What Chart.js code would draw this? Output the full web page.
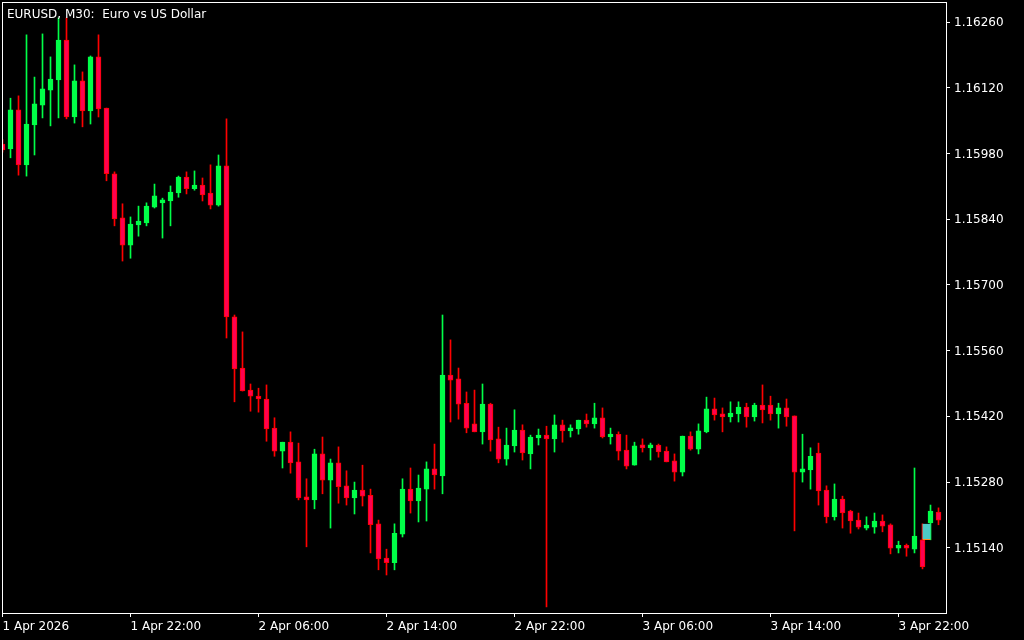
<!DOCTYPE html>
<html>
<head>
<meta charset="utf-8">
<script src="https://cdn.jsdelivr.net/npm/chart.js@4/dist/chart.umd.min.js"></script>
<style>
html, body { margin: 0; padding: 0; background: #000; }
</style>
</head>
<body>
<canvas id="grafico" width="1024" height="640"></canvas>
<script>
// EURUSD M30, barras a partir de 1 Apr 14:00 (indice -1 fica cortado na borda)
const titulo = 'EURUSD, M30:  Euro vs US Dollar'
const primeiraBarra = -1

const abertura = [
    1.16000,
    1.15990, 1.16073, 1.15956, 1.16041, 1.16083, 1.16115, 1.16137, 1.16222, 1.16058, 1.16135,
    1.16071, 1.16186, 1.16077, 1.15937, 1.15843, 1.15785, 1.15828, 1.15832, 1.15866, 1.15875,
    1.15879, 1.15896, 1.15930, 1.15905, 1.15913, 1.15896, 1.15870, 1.15954, 1.15632, 1.15523,
    1.15476, 1.15463, 1.15457, 1.15395, 1.15346, 1.15365, 1.15323, 1.15248, 1.15242, 1.15340,
    1.15284, 1.15321, 1.15272, 1.15246, 1.15263, 1.15252, 1.15191, 1.15118, 1.15108, 1.15169,
    1.15265, 1.15240, 1.15265, 1.15308, 1.15293, 1.15508, 1.15500, 1.15448, 1.15404, 1.15387,
    1.15446, 1.15372, 1.15329, 1.15357, 1.15391, 1.15340, 1.15374, 1.15380, 1.15372, 1.15402,
    1.15389, 1.15393, 1.15412, 1.15404, 1.15417, 1.15376, 1.15382, 1.15348, 1.15316, 1.15357,
    1.15353, 1.15359, 1.15346, 1.15325, 1.15301, 1.15378, 1.15350, 1.15387, 1.15436, 1.15425,
    1.15419, 1.15425, 1.15440, 1.15419, 1.15444, 1.15444, 1.15425, 1.15438, 1.15421, 1.15301,
    1.15306, 1.15342, 1.15263, 1.15206, 1.15244, 1.15218, 1.15199, 1.15182, 1.15184, 1.15197,
    1.15189, 1.15139, 1.15144, 1.15137, 1.15157, 1.15193, 1.15216
]
const maximas = [
    1.16010,
    1.16098, 1.16103, 1.16233, 1.16143, 1.16235, 1.16186, 1.16269, 1.16269, 1.16169, 1.16154,
    1.16188, 1.16233, 1.16077, 1.15941, 1.15873, 1.15845, 1.15868, 1.15875, 1.15915, 1.15885,
    1.15911, 1.15932, 1.15941, 1.15943, 1.15928, 1.15956, 1.15977, 1.16054, 1.15636, 1.15600,
    1.15489, 1.15480, 1.15487, 1.15417, 1.15365, 1.15387, 1.15363, 1.15287, 1.15350, 1.15376,
    1.15329, 1.15355, 1.15304, 1.15280, 1.15316, 1.15265, 1.15199, 1.15137, 1.15191, 1.15287,
    1.15310, 1.15295, 1.15323, 1.15361, 1.15636, 1.15583, 1.15523, 1.15472, 1.15476, 1.15489,
    1.15448, 1.15397, 1.15395, 1.15434, 1.15402, 1.15380, 1.15393, 1.15399, 1.15423, 1.15412,
    1.15402, 1.15412, 1.15425, 1.15448, 1.15438, 1.15395, 1.15387, 1.15380, 1.15365, 1.15372,
    1.15363, 1.15361, 1.15355, 1.15340, 1.15378, 1.15387, 1.15404, 1.15461, 1.15459, 1.15438,
    1.15451, 1.15451, 1.15448, 1.15448, 1.15487, 1.15463, 1.15448, 1.15457, 1.15421, 1.15382,
    1.15353, 1.15363, 1.15272, 1.15276, 1.15250, 1.15220, 1.15214, 1.15206, 1.15214, 1.15210,
    1.15191, 1.15154, 1.15148, 1.15310, 1.15191, 1.15231, 1.15225
]
const minimas = [
    1.15983,
    1.15971, 1.15934, 1.15932, 1.15977, 1.16056, 1.16039, 1.16056, 1.16054, 1.16045, 1.16037,
    1.16043, 1.16058, 1.15922, 1.15826, 1.15751, 1.15757, 1.15804, 1.15826, 1.15864, 1.15800,
    1.15826, 1.15887, 1.15894, 1.15902, 1.15879, 1.15862, 1.15868, 1.15587, 1.15451, 1.15474,
    1.15431, 1.15429, 1.15367, 1.15335, 1.15310, 1.15299, 1.15242, 1.15142, 1.15223, 1.15255,
    1.15182, 1.15235, 1.15231, 1.15212, 1.15229, 1.15129, 1.15093, 1.15082, 1.15093, 1.15163,
    1.15214, 1.15195, 1.15197, 1.15265, 1.15255, 1.15408, 1.15414, 1.15385, 1.15387, 1.15361,
    1.15346, 1.15321, 1.15316, 1.15344, 1.15327, 1.15308, 1.15359, 1.15014, 1.15344, 1.15365,
    1.15376, 1.15382, 1.15397, 1.15395, 1.15374, 1.15361, 1.15327, 1.15308, 1.15316, 1.15344,
    1.15327, 1.15333, 1.15323, 1.15282, 1.15293, 1.15348, 1.15340, 1.15385, 1.15412, 1.15387,
    1.15408, 1.15408, 1.15397, 1.15410, 1.15406, 1.15412, 1.15395, 1.15399, 1.15176, 1.15280,
    1.15265, 1.15231, 1.15193, 1.15199, 1.15182, 1.15171, 1.15180, 1.15178, 1.15171, 1.15174,
    1.15127, 1.15129, 1.15122, 1.15129, 1.15095, 1.15157, 1.15189
]
const fechamento = [
    1.15988,
    1.16073, 1.15956, 1.16043, 1.16086, 1.16118, 1.16139, 1.16222, 1.16058, 1.16135, 1.16071,
    1.16186, 1.16075, 1.15937, 1.15841, 1.15785, 1.15830, 1.15836, 1.15868, 1.15890, 1.15881,
    1.15898, 1.15930, 1.15905, 1.15913, 1.15892, 1.15870, 1.15954, 1.15632, 1.15521, 1.15474,
    1.15463, 1.15457, 1.15393, 1.15346, 1.15365, 1.15321, 1.15246, 1.15242, 1.15340, 1.15284,
    1.15321, 1.15270, 1.15246, 1.15263, 1.15250, 1.15189, 1.15116, 1.15108, 1.15171, 1.15265,
    1.15240, 1.15267, 1.15308, 1.15295, 1.15508, 1.15497, 1.15446, 1.15395, 1.15387, 1.15446,
    1.15370, 1.15329, 1.15359, 1.15391, 1.15342, 1.15376, 1.15380, 1.15372, 1.15402, 1.15389,
    1.15395, 1.15412, 1.15404, 1.15417, 1.15376, 1.15382, 1.15346, 1.15314, 1.15357, 1.15353,
    1.15359, 1.15344, 1.15323, 1.15301, 1.15378, 1.15350, 1.15389, 1.15436, 1.15423, 1.15419,
    1.15427, 1.15440, 1.15419, 1.15444, 1.15434, 1.15425, 1.15438, 1.15419, 1.15301, 1.15308,
    1.15335, 1.15261, 1.15206, 1.15244, 1.15214, 1.15197, 1.15184, 1.15186, 1.15197, 1.15186,
    1.15139, 1.15144, 1.15139, 1.15165, 1.15099, 1.15218, 1.15199
]

// marcador de operacao perto das ultimas barras
const marcadorBarra = [114.5]
const marcadorPreco = [[1.15157, 1.15191]]

// eixos
const precosEixo = [1.16260, 1.16120, 1.15980, 1.15840, 1.15700, 1.15560, 1.15420, 1.15280, 1.15140]
const posicoesTempo = [-1, 15, 31, 47, 63, 79, 95, 111]
const rotulosTempo = ['1 Apr 2026', '1 Apr 22:00', '2 Apr 06:00', '2 Apr 14:00', '2 Apr 22:00', '3 Apr 06:00', '3 Apr 14:00', '3 Apr 22:00']

const verde = '#00ff48'
const vermelho = '#ff0000'
const vermelhoCorpo = '#ff0050'
const fonte = { family: '"DejaVu Sans", sans-serif', size: 12 }

const alta = i => fechamento[i] >= abertura[i]

const pavios = abertura.map((_, i) => ({ x: primeiraBarra + i, y: [minimas[i], maximas[i]] }))
const corpos = abertura.map((_, i) => ({ x: primeiraBarra + i, y: [abertura[i], fechamento[i]] }))
const marcador = marcadorBarra.map((x, i) => ({ x: x, y: marcadorPreco[i] }))

// moldura branca e titulo
const moldura = {
    id: 'moldura',
    afterDraw(chart) {
        const c = chart.ctx
        const a = chart.chartArea
        c.save()
        c.strokeStyle = '#ffffff'
        c.lineWidth = 1
        c.strokeRect(a.left + 0.5, a.top + 0.5, a.right - a.left, a.bottom - a.top)
        c.fillStyle = '#ffffff'
        c.font = '12px "DejaVu Sans", sans-serif'
        c.textBaseline = 'alphabetic'
        c.fillText(titulo, a.left + 5, a.top + 16)
        c.restore()
    }
}

// tira o espaco extra que o Chart.js reserva para os rotulos
function semPadding(s) {
    s.paddingLeft = 0
    s.paddingRight = 0
    s.paddingTop = 0
    s.paddingBottom = 0
}

const ctx = document.getElementById('grafico').getContext('2d')
const grafico = new Chart(ctx, {
    type: 'bar',
    data: {
        datasets: [
            {
                label: 'pavio',
                data: pavios,
                grouped: false,
                barThickness: 1,
                backgroundColor: c => alta(c.dataIndex) ? verde : vermelho,
                borderWidth: 0,
                order: 3
            },
            {
                label: 'corpo',
                data: corpos,
                grouped: false,
                barThickness: 5,
                minBarLength: 3,
                backgroundColor: c => alta(c.dataIndex) ? verde : vermelhoCorpo,
                borderColor: c => alta(c.dataIndex) ? verde : vermelho,
                borderWidth: 1,
                borderSkipped: false,
                order: 2
            },
            {
                label: 'marcador',
                data: marcador,
                grouped: false,
                barThickness: 8,
                backgroundColor: '#4ccac6',
                borderColor: '#ff8a1c',
                borderWidth: { top: 0, left: 0, right: 0, bottom: 1 },
                borderSkipped: false,
                order: 1
            }
        ]
    },
    options: {
        responsive: false,
        animation: false,
        layout: { padding: { left: 2, top: 2, right: 0, bottom: 0 } },
        plugins: {
            legend: { display: false },
            tooltip: { enabled: false }
        },
        scales: {
            x: {
                type: 'linear',
                position: 'bottom',
                offset: false,
                min: -1.0625,
                max: 116.9375,
                afterBuildTicks: s => { s.ticks = posicoesTempo.map(v => ({ value: v })) },
                afterFit: s => { s.height = 27; semPadding(s) },
                border: { display: false },
                grid: { offset: false, drawOnChartArea: false, drawTicks: true, tickLength: 4, color: '#ffffff' },
                ticks: {
                    color: '#ffffff',
                    font: fonte,
                    align: 'start',
                    padding: 3,
                    maxRotation: 0,
                    autoSkip: false,
                    callback: (v, i) => rotulosTempo[i]
                }
            },
            y: {
                type: 'linear',
                position: 'right',
                min: 1.15001,
                max: 1.16303,
                afterBuildTicks: s => { s.ticks = precosEixo.map(v => ({ value: v })) },
                afterFit: s => { s.width = 78; semPadding(s) },
                border: { display: false },
                grid: { drawOnChartArea: false, drawTicks: true, tickLength: 4, color: '#ffffff' },
                ticks: {
                    color: '#ffffff',
                    font: fonte,
                    padding: 4,
                    labelOffset: 1,
                    callback: v => v.toFixed(5)
                }
            }
        }
    },
    plugins: [moldura]
})
</script>
</body>
</html>
